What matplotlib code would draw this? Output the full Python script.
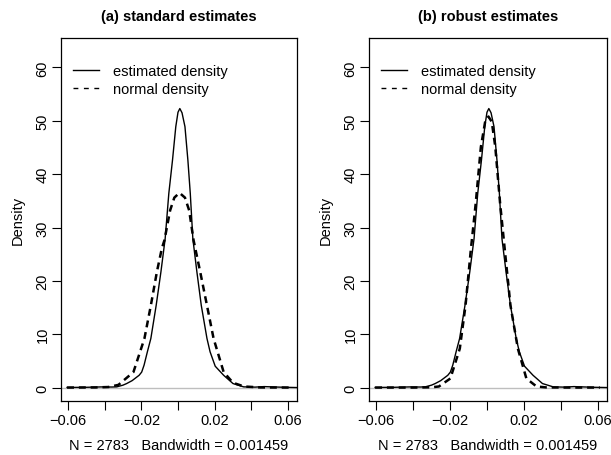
import matplotlib
matplotlib.use("Agg")
import matplotlib.pyplot as plt
from matplotlib.lines import Line2D

plt.rcParams['font.family'] = ['Liberation Sans', 'DejaVu Sans']
plt.rcParams['lines.scale_dashes'] = False

# estimated kernel density (same in both panels)
est_x = [-0.0605, -0.050, -0.042, -0.036, -0.0334, -0.030, -0.028, -0.025, -0.0212,
         -0.0198, -0.0185, -0.0167, -0.0148, -0.0119, -0.0093, -0.0070, -0.0050,
         -0.0030, -0.0012, 0.0000, 0.0010, 0.0022, 0.0038, 0.0054, 0.0067, 0.0081,
         0.0103, 0.0127, 0.0158, 0.0175, 0.0203, 0.0249, 0.0300, 0.0358, 0.042,
         0.047, 0.052, 0.058, 0.065]
est_y = [0.02, 0.05, 0.12, 0.10, 0.13, 0.45, 0.75, 1.3, 2.3,
         2.9, 4.2, 6.7, 9.2, 15.4, 21.7, 27.9, 36.4,
         42.6, 48.9, 51.6, 52.3, 51.5, 48.9, 42.6, 36.4, 27.9,
         21.7, 15.4, 9.2, 6.7, 4.0, 2.3, 0.75, 0.13, 0.08,
         0.18, 0.12, 0.05, 0.0]

# normal density, standard estimates (panel a)
norm_a_x = [-0.0605, -0.045, -0.038, -0.0325, -0.0243, -0.0183, -0.0148, -0.0115,
            -0.0088, -0.0074, -0.0043, -0.0020, 0.0008, 0.0038, 0.0061, 0.0085,
            0.0121, 0.0158, 0.0194, 0.0249, 0.0300, 0.0360, 0.045, 0.061]
norm_a_y = [0.0, 0.02, 0.1, 0.5, 2.9, 9.2, 15.4, 21.7,
            26.1, 27.6, 33.2, 35.6, 36.5, 35.6, 33.2, 27.6,
            21.7, 15.4, 9.2, 2.9, 0.9, 0.2, 0.02, 0.0]

# normal density, robust estimates (panel b)
norm_b_x = [-0.0605, -0.040, -0.030, -0.026, -0.0198, -0.0147, -0.0116, -0.0088,
            -0.0061, -0.0033, -0.0010, 0.0008, 0.0026, 0.0045, 0.0071, 0.0097,
            0.0127, 0.0167, 0.0213, 0.0268, 0.032, 0.045, 0.061]
norm_b_y = [0.0, 0.0, 0.05, 0.2, 1.7, 7.3, 15.4, 25.6,
            34.5, 45.1, 49.8, 50.8, 49.8, 45.1, 34.5, 25.6,
            15.4, 7.3, 1.7, 0.2, 0.03, 0.0, 0.0]

titles = ["(a) standard estimates", "(b) robust estimates"]
xlabel = "N = 2783   Bandwidth = 0.001459"
ylabel = "Density"
legend_labels = ["estimated density", "normal density"]
xticks = [-0.06, -0.04, -0.02, 0.0, 0.02, 0.04, 0.06]
xticklabels = ["\u22120.06", "", "\u22120.02", "", "0.02", "", "0.06"]
yticks = [0, 10, 20, 30, 40, 50, 60]

FS = 10.5
W, H = 611, 456
fig = plt.figure(figsize=(W / 100, H / 100), dpi=100)

panels = [(61, 297, norm_a_x, norm_a_y), (369, 607, norm_b_x, norm_b_y)]
curve_dash = (0, (5.0, 3.5))
legend_dash = (0, (3.5, 4.0))
for i, (l, r, nx, ny) in enumerate(panels):
    top, bot = 39, 402
    ax = fig.add_axes([l / W, (H - bot) / H, (r - l) / W, (bot - top) / H])
    ax.axhline(0, color='#BEBEBE', lw=1.0, zorder=1)
    ax.plot(est_x, est_y, color='black', lw=1.0, zorder=3)
    ax.plot(nx, ny, color='black', lw=1.8, linestyle=curve_dash, zorder=2)
    ax.set_xlim(-0.0638, 0.0649)
    ax.set_ylim(-2.52, 65.52)
    ax.set_xticks(xticks)
    ax.set_xticklabels(xticklabels)
    ax.set_yticks(yticks)
    ax.set_yticklabels([str(v) for v in yticks])
    ax.tick_params(axis='both', direction='out', length=6.5, width=0.8,
                   labelsize=FS, color='black')
    ax.tick_params(axis='x', pad=2.0)
    ax.tick_params(axis='y', pad=1.8)
    plt.setp(ax.get_yticklabels(), rotation=90, va='center')
    for s in ax.spines.values():
        s.set_linewidth(0.9)
    ax.set_title(titles[i], fontsize=FS, fontweight='bold', pad=13)
    ax.set_xlabel(xlabel, fontsize=FS, labelpad=8)
    ax.set_ylabel(ylabel, fontsize=FS, labelpad=7.5)
    handles = [Line2D([], [], color='black', lw=1.0),
               Line2D([], [], color='black', lw=1.0, linestyle=legend_dash)]
    ax.legend(handles, legend_labels, loc='upper left',
              bbox_to_anchor=(12 / 236, 0.928), frameon=False, fontsize=FS,
              handlelength=1.8, handletextpad=0.95, labelspacing=0.25,
              borderpad=0, borderaxespad=0)

fig.savefig("out.png", dpi=100)
